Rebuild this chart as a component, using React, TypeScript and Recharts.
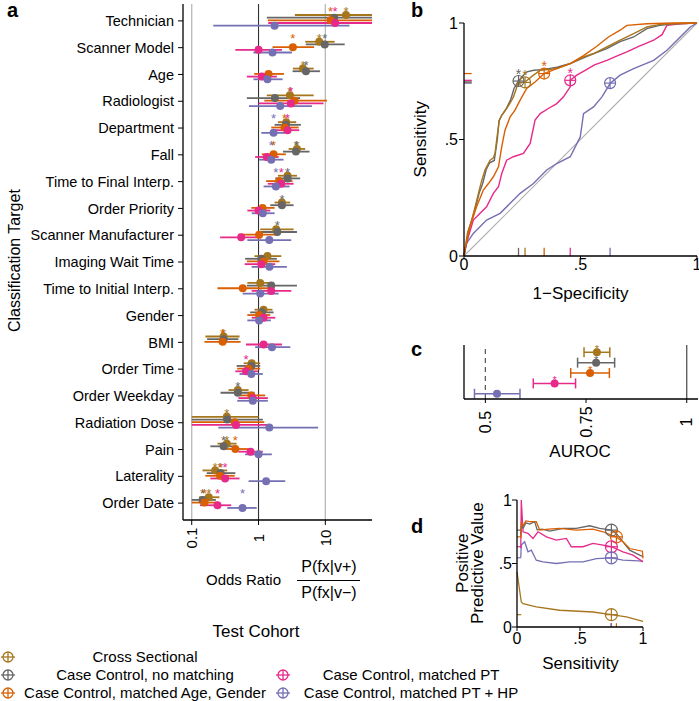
import React from 'react';
import {
  ScatterChart,
  Scatter,
  ComposedChart,
  Line,
  XAxis,
  YAxis,
  ErrorBar,
  ReferenceLine,
} from 'recharts';

const FONT = '"Liberation Sans", Arial, Helvetica, sans-serif';

// ---------- cohorts ----------
const cohortNames = [
  'Cross Sectional',
  'Case Control, no matching',
  'Case Control, matched Age, Gender',
  'Case Control, matched PT',
  'Case Control, matched PT + HP',
];
const cohortColors = ['#A6761D', '#666666', '#D95F02', '#E7298A', '#7570B3'];

// ---------- panel a : odds ratios ----------
const targets = [
  'Technician', 'Scanner Model', 'Age', 'Radiologist', 'Department', 'Fall',
  'Time to Final Interp.', 'Order Priority', 'Scanner Manufacturer', 'Imaging Wait Time',
  'Time to Initial Interp.', 'Gender', 'BMI', 'Order Time', 'Order Weekday',
  'Radiation Dose', 'Pain', 'Laterality', 'Order Date',
];

const orCross = [20.4, 8.1, 4.62, 2.95, 2.6, 3.76, 2.72, 2.24, 1.84, 1.36, 1.06, 1.19, 0.3, 0.79, 0.49, 0.335, 0.335, 0.224, 0.18];
const loCross = [3.5, 5.0, 3.27, 1.33, 1.95, 2.82, 1.95, 1.74, 1.06, 0.87, 0.68, 0.87, 0.16, 0.6, 0.355, 0.1, 0.243, 0.145, 0.129];
const hiCross = [50, 13.8, 6.7, 6.7, 3.67, 5.0, 3.76, 2.98, 3.35, 2.19, 1.68, 1.62, 0.52, 1.06, 0.71, 1.0, 0.47, 0.34, 0.26];
const sigCross = [1, 1, 1, 1, 0, 1, 0, 0, 0, 0, 0, 0, 1, 0, 0, 1, 1, 1, 1];

const orNoMatch = [13.6, 9.8, 5.13, 1.76, 2.57, 3.63, 2.72, 2.24, 1.91, 1.1, 1.55, 1.12, 0.3, 0.78, 0.49, 0.34, 0.3, 0.27, 0.145];
const loNoMatch = [1.33, 5.1, 3.24, 0.67, 1.74, 2.32, 1.78, 1.5, 1.02, 0.63, 0.67, 0.75, 0.17, 0.47, 0.27, 0.1, 0.19, 0.168, 0.1];
const hiNoMatch = [50, 19.5, 8.3, 4.2, 4.3, 5.8, 4.2, 3.35, 3.76, 1.88, 3.76, 1.68, 0.5, 1.06, 0.87, 1.16, 0.45, 0.45, 0.23];
const sigNoMatch = [0, 1, 1, 0, 0, 1, 1, 1, 1, 0, 0, 0, 0, 0, 1, 0, 1, 1, 1];

const orAgeGender = [12.0, 3.27, 1.41, 3.47, 2.45, 1.68, 2.04, 1.15, 1.02, 1.19, 0.58, 1.02, 0.29, 0.71, 0.78, 0.44, 0.45, 0.266, 0.155];
const loAgeGender = [1.38, 1.62, 0.86, 1.22, 1.55, 1.12, 1.3, 0.78, 0.5, 0.67, 0.243, 0.68, 0.155, 0.48, 0.53, 0.1, 0.3, 0.16, 0.1];
const hiAgeGender = [50, 6.8, 2.4, 10.6, 3.98, 2.57, 3.24, 1.74, 2.0, 2.06, 1.41, 1.5, 0.54, 1.06, 1.26, 1.22, 0.71, 0.44, 0.25];
const sigAgeGender = [1, 1, 0, 0, 1, 1, 0, 0, 0, 0, 0, 0, 1, 0, 0, 0, 1, 1, 1];

const orPT = [14, 1.0, 1.12, 3.05, 2.72, 1.33, 2.19, 1.0, 0.55, 1.1, 1.55, 1.19, 1.19, 0.65, 0.82, 0.46, 0.76, 0.316, 0.243];
const loPT = [1.4, 0.45, 0.67, 1.0, 1.74, 0.89, 1.38, 0.68, 0.266, 0.62, 0.79, 0.79, 0.65, 0.45, 0.5, 0.1, 0.5, 0.19, 0.133];
const hiPT = [50, 2.24, 1.88, 9.4, 4.07, 2.0, 3.35, 1.5, 1.1, 1.78, 3.09, 1.78, 2.24, 0.98, 1.38, 1.41, 1.16, 0.52, 0.39];
const sigPT = [1, 0, 0, 1, 1, 0, 1, 0, 0, 0, 0, 0, 0, 1, 0, 0, 0, 1, 1];

const orPTHP = [1.74, 1.62, 1.36, 2.11, 1.68, 1.55, 1.82, 1.16, 1.45, 1.46, 1.06, 1.02, 1.59, 0.78, 0.82, 1.45, 1.0, 1.3, 0.575];
const loPTHP = [0.21, 0.84, 0.84, 0.72, 1.1, 1.02, 1.19, 0.79, 0.68, 0.79, 0.58, 0.68, 0.89, 0.52, 0.48, 0.25, 0.63, 0.71, 0.34];
const hiPTHP = [23, 3.16, 2.29, 6.3, 2.51, 2.37, 2.92, 1.74, 3.09, 2.66, 2.0, 1.53, 2.99, 1.16, 1.38, 7.8, 1.58, 2.51, 0.94];
const sigPTHP = [0, 0, 0, 0, 1, 1, 1, 0, 0, 0, 0, 0, 0, 0, 0, 0, 0, 0, 1];

const orTicks = [0.1, 1, 10];

// ---------- panel b : ROC ----------
const rocFprCross = [0, 0.004, 0.015, 0.033, 0.045, 0.062, 0.075, 0.09, 0.112, 0.125, 0.133, 0.143, 0.152, 0.162, 0.183, 0.2, 0.212, 0.225, 0.229, 0.262, 0.29, 0.327, 0.36, 0.398, 0.456, 0.513, 0.556, 0.613, 0.67, 0.728, 0.785, 0.842, 0.9, 1];
const rocTprCross = [0, 0.026, 0.1, 0.154, 0.2, 0.269, 0.32, 0.369, 0.411, 0.42, 0.44, 0.52, 0.583, 0.604, 0.633, 0.66, 0.683, 0.72, 0.74, 0.747, 0.77, 0.797, 0.8, 0.804, 0.826, 0.854, 0.869, 0.897, 0.926, 0.954, 0.983, 0.994, 0.997, 1];
const rocFprNoMatch = [0, 0.005, 0.02, 0.035, 0.05, 0.065, 0.08, 0.095, 0.11, 0.13, 0.143, 0.15, 0.16, 0.18, 0.2, 0.215, 0.234, 0.25, 0.27, 0.3, 0.34, 0.4, 0.456, 0.513, 0.56, 0.613, 0.67, 0.728, 0.785, 0.84, 0.9, 1];
const rocTprNoMatch = [0, 0.03, 0.11, 0.16, 0.21, 0.27, 0.31, 0.37, 0.4, 0.41, 0.5, 0.58, 0.6, 0.63, 0.67, 0.72, 0.751, 0.77, 0.79, 0.797, 0.8, 0.81, 0.826, 0.85, 0.87, 0.89, 0.92, 0.94, 0.976, 0.99, 0.997, 1];
const rocFprAgeGender = [0, 0.004, 0.026, 0.054, 0.083, 0.105, 0.126, 0.148, 0.162, 0.176, 0.198, 0.219, 0.241, 0.269, 0.305, 0.344, 0.398, 0.456, 0.513, 0.57, 0.62, 0.67, 0.699, 0.785, 0.9, 1];
const rocTprAgeGender = [0, 0.026, 0.126, 0.211, 0.283, 0.311, 0.34, 0.383, 0.469, 0.54, 0.597, 0.626, 0.669, 0.719, 0.747, 0.783, 0.804, 0.826, 0.86, 0.9, 0.94, 0.969, 0.99, 0.997, 1, 1];
const rocFprPT = [0, 0.004, 0.019, 0.04, 0.069, 0.097, 0.126, 0.148, 0.162, 0.183, 0.212, 0.255, 0.284, 0.305, 0.327, 0.362, 0.398, 0.427, 0.456, 0.456, 0.484, 0.52, 0.56, 0.613, 0.66, 0.699, 0.75, 0.814, 0.85, 0.871, 0.93, 1];
const rocTprPT = [0, 0.026, 0.083, 0.154, 0.183, 0.211, 0.269, 0.297, 0.354, 0.411, 0.426, 0.44, 0.483, 0.583, 0.611, 0.633, 0.654, 0.683, 0.726, 0.754, 0.776, 0.797, 0.82, 0.84, 0.86, 0.876, 0.9, 0.926, 0.95, 0.99, 0.997, 1];
const rocFprPTHP = [0, 0.011, 0.04, 0.097, 0.155, 0.198, 0.241, 0.298, 0.355, 0.398, 0.456, 0.499, 0.513, 0.556, 0.592, 0.627, 0.67, 0.728, 0.814, 0.871, 0.928, 0.971, 1];
const rocTprPTHP = [0, 0.054, 0.097, 0.154, 0.183, 0.226, 0.269, 0.311, 0.369, 0.397, 0.426, 0.511, 0.611, 0.64, 0.683, 0.74, 0.776, 0.804, 0.84, 0.883, 0.94, 0.983, 1];

const thrFpr = [0.262, 0.234, 0.344, 0.456, 0.627];
const thrTpr = [0.745, 0.751, 0.783, 0.754, 0.742];
const thrSig = [1, 1, 1, 1, 0];
const unitTicks = [0, 0.5, 1];

// ---------- panel c : AUROC ----------
const aurocMean = [0.777, 0.775, 0.76, 0.672, 0.529];
const aurocLo = [0.745, 0.729, 0.712, 0.619, 0.473];
const aurocHi = [0.809, 0.821, 0.808, 0.724, 0.586];
const aurocSig = [1, 1, 1, 1, 0];
const aurocTicks = [0.5, 0.75, 1];

// ---------- panel d : PPV ----------
const ppvSensCross = [0, 0.034, 0.048, 0.153, 0.339, 0.603, 0.749, 0.868, 1];
const ppvCross = [0.434, 0.197, 0.184, 0.158, 0.132, 0.118, 0.097, 0.079, 0.045];
const ppvSensNoMatch = [0.03, 0.035, 0.05, 0.07, 0.1, 0.14, 0.16, 0.2, 0.26, 0.365, 0.47, 0.577, 0.656, 0.749, 0.788, 0.841, 0.894, 0.974, 1];
const ppvNoMatch = [0.72, 0.8, 0.78, 0.82, 0.81, 0.83, 0.765, 0.77, 0.755, 0.776, 0.776, 0.797, 0.776, 0.763, 0.737, 0.671, 0.605, 0.566, 0.553];
const ppvSensAgeGender = [0.03, 0.035, 0.05, 0.07, 0.1, 0.153, 0.18, 0.25, 0.339, 0.47, 0.603, 0.683, 0.783, 0.841, 0.894, 0.995, 1];
const ppvAgeGender = [0.7, 0.82, 0.8, 0.835, 0.83, 0.829, 0.763, 0.77, 0.776, 0.763, 0.771, 0.75, 0.71, 0.671, 0.618, 0.597, 0.54];
const ppvSensPT = [0.03, 0.034, 0.048, 0.087, 0.127, 0.167, 0.233, 0.312, 0.392, 0.431, 0.524, 0.603, 0.683, 0.749, 0.841, 0.921, 1];
const ppvPT = [0.62, 1.0, 0.75, 0.737, 0.697, 0.75, 0.71, 0.684, 0.697, 0.632, 0.632, 0.658, 0.645, 0.632, 0.592, 0.566, 0.513];
const ppvSensPTHP = [0.03, 0.034, 0.061, 0.087, 0.114, 0.153, 0.206, 0.312, 0.418, 0.524, 0.63, 0.749, 0.841, 1];
const ppvPTHP = [0.55, 0.645, 0.671, 0.592, 0.605, 0.526, 0.513, 0.5, 0.513, 0.513, 0.539, 0.545, 0.526, 0.518];

const thrSens = [0.749, 0.749, 0.789, 0.749, 0.749];
const thrPpv = [0.097, 0.763, 0.71, 0.632, 0.545];

// ---------- derived tables ----------
const aSeries = [
  { or: orCross, lo: loCross, hi: hiCross, sig: sigCross },
  { or: orNoMatch, lo: loNoMatch, hi: hiNoMatch, sig: sigNoMatch },
  { or: orAgeGender, lo: loAgeGender, hi: hiAgeGender, sig: sigAgeGender },
  { or: orPT, lo: loPT, hi: hiPT, sig: sigPT },
  { or: orPTHP, lo: loPTHP, hi: hiPTHP, sig: sigPTHP },
];
const dodge = [-0.22, -0.12, -0.02, 0.08, 0.18];
const dataA = aSeries.map((s, c) =>
  s.or.map((v, i) => ({ x: v, y: i + dodge[c], err: [v - s.lo[i], s.hi[i] - v] }))
);
const starsA = aSeries.map((s) =>
  s.or.map((v, i) => (s.sig[i] ? { x: v, y: i - 0.46 } : null)).filter(Boolean) as any[]
);

const zipXY = (xs: number[], ys: number[]) => xs.map((x, i) => ({ x, y: ys[i] }));
const rocData = [
  zipXY(rocFprCross, rocTprCross),
  zipXY(rocFprNoMatch, rocTprNoMatch),
  zipXY(rocFprAgeGender, rocTprAgeGender),
  zipXY(rocFprPT, rocTprPT),
  zipXY(rocFprPTHP, rocTprPTHP),
];
const ppvData = [
  zipXY(ppvSensCross, ppvCross),
  zipXY(ppvSensNoMatch, ppvNoMatch),
  zipXY(ppvSensAgeGender, ppvAgeGender),
  zipXY(ppvSensPT, ppvPT),
  zipXY(ppvSensPTHP, ppvPTHP),
];
const dataC = aurocMean.map((m, i) => ({ x: m, y: i, err: [m - aurocLo[i], aurocHi[i] - m], sig: aurocSig[i] }));

const drawOrder = [4, 3, 1, 0, 2];

// ---------- helpers ----------
const fmtUnit = (v: number) => (v === 0 ? '0' : v === 1 ? '1' : '.5');

const rotTick = (dy: number, size: number, fmt: (v: number) => string) => (props: any) => {
  const { x, y, payload } = props;
  const cy = y + dy;
  return (
    <text
      x={x}
      y={cy}
      transform={`rotate(-90 ${x} ${cy})`}
      textAnchor="middle"
      dominantBaseline="central"
      fontSize={size}
      fontFamily={FONT}
      fill="#000"
    >
      {fmt(payload.value)}
    </text>
  );
};

const crossCircle = (color: string, r: number, showStar: boolean) => (p: any) => {
  const { cx, cy } = p;
  if (cx == null || cy == null) return <g />;
  return (
    <g>
      <circle cx={cx} cy={cy} r={r} fill="none" stroke={color} strokeWidth={1.2} />
      <line x1={cx - r} x2={cx + r} y1={cy} y2={cy} stroke={color} strokeWidth={1.2} />
      <line x1={cx} x2={cx} y1={cy - r} y2={cy + r} stroke={color} strokeWidth={1.2} />
      {showStar ? (
        <text x={cx} y={cy - r + 3} textAnchor="middle" fontSize={14} fontFamily={FONT} fill={color}>
          *
        </text>
      ) : null}
    </g>
  );
};

const Txt = ({ cx, cy, text, size, bold, rotate, width = 300 }: any) => (
  <div
    style={{
      position: 'absolute',
      left: cx - width / 2,
      top: cy - size * 0.6,
      width,
      height: size * 1.2,
      lineHeight: `${size * 1.2}px`,
      fontSize: size,
      fontWeight: bold ? 'bold' : 'normal',
      textAlign: 'center',
      whiteSpace: 'nowrap',
      fontFamily: FONT,
      color: '#000',
      transform: rotate ? 'rotate(-90deg)' : undefined,
    }}
  >
    {text}
  </div>
);

const LegendIcon = ({ color }: { color: string }) => (
  <svg width={16} height={14} style={{ display: 'block' }}>
    <line x1={1} x2={15} y1={7} y2={7} stroke={color} strokeWidth={1.3} />
    <circle cx={8} cy={7} r={5} fill="none" stroke={color} strokeWidth={1.3} />
    <line x1={8} x2={8} y1={2} y2={12} stroke={color} strokeWidth={1.3} />
  </svg>
);

const axisStyle = { stroke: '#000', strokeWidth: 1.3 };

// ---------- panels ----------
function PanelA() {
  return (
    <div style={{ position: 'absolute', left: 0, top: 0 }}>
      <ScatterChart width={380} height={560} margin={{ top: 4, right: 8, bottom: 0, left: 0 }} style={{ fontFamily: FONT }}>
        <XAxis
          type="number"
          dataKey="x"
          scale="log"
          domain={[0.074, 50]}
          allowDataOverflow
          ticks={orTicks}
          interval={0}
          height={40}
          tickSize={5}
          tickMargin={0}
          axisLine={axisStyle}
          tickLine={{ stroke: '#000' }}
          tick={rotTick(13, 15, (v) => String(v))}
        />
        <YAxis
          type="number"
          dataKey="y"
          domain={[-0.63, 18.63]}
          reversed
          ticks={targets.map((_, i) => i)}
          interval={0}
          width={183}
          tickSize={5}
          tickMargin={4}
          axisLine={axisStyle}
          tickLine={{ stroke: '#000' }}
          tickFormatter={(v: number) => targets[v] ?? ''}
          tick={{ fontSize: 14.5, fill: '#000', fontFamily: FONT }}
        />
        <ReferenceLine x={0.1} stroke="#b8b8b8" strokeWidth={1.3} />
        <ReferenceLine x={10} stroke="#b8b8b8" strokeWidth={1.3} />
        <ReferenceLine x={1} stroke="#333" strokeWidth={1.1} />
        {dataA.map((d, c) => (
          <Scatter
            key={'a' + c}
            name={cohortNames[c]}
            data={d}
            isAnimationActive={false}
            shape={(p: any) => <circle cx={p.cx} cy={p.cy} r={4} fill={cohortColors[c]} />}
          >
            <ErrorBar dataKey="err" direction="x" width={0} stroke={cohortColors[c]} strokeWidth={1.8} />
          </Scatter>
        ))}
        {starsA.map((d, c) => (
          <Scatter
            key={'s' + c}
            data={d}
            isAnimationActive={false}
            shape={(p: any) => (
              <text x={p.cx} y={p.cy + 7.5} textAnchor="middle" fontSize={13} fontFamily={FONT} fill={cohortColors[c]}>
                *
              </text>
            )}
          />
        ))}
      </ScatterChart>
    </div>
  );
}

function PanelB() {
  return (
    <div style={{ position: 'absolute', left: 420, top: 0 }}>
      <ComposedChart width={279} height={306} margin={{ top: 23, right: 2, bottom: 0, left: 0 }} style={{ fontFamily: FONT }}>
        <XAxis
          type="number"
          dataKey="x"
          domain={[0, 1]}
          ticks={unitTicks}
          interval={0}
          height={50}
          tickSize={3}
          tickMargin={0}
          axisLine={axisStyle}
          tickLine={{ stroke: '#000' }}
          tickFormatter={fmtUnit}
          tick={{ fontSize: 16, fill: '#000', fontFamily: FONT }}
        />
        <YAxis
          type="number"
          dataKey="y"
          domain={[0, 1]}
          ticks={unitTicks}
          interval={0}
          width={44}
          tickSize={5}
          tickMargin={1}
          axisLine={axisStyle}
          tickLine={{ stroke: '#000' }}
          tickFormatter={fmtUnit}
          tick={{ fontSize: 16, fill: '#000', fontFamily: FONT }}
        />
        <ReferenceLine segment={[{ x: 0, y: 0 }, { x: 1, y: 1 }]} stroke="#b0b0b0" strokeWidth={1.2} />
        {drawOrder.map((c) => (
          <Line
            key={'roc' + c}
            data={rocData[c]}
            dataKey="y"
            type="linear"
            stroke={cohortColors[c]}
            strokeWidth={1.4}
            dot={false}
            activeDot={false}
            isAnimationActive={false}
          />
        ))}
        {thrFpr.map((f, c) => (
          <ReferenceLine key={'rx' + c} segment={[{ x: f, y: 0 }, { x: f, y: 0.035 }]} stroke={cohortColors[c]} strokeWidth={1.3} />
        ))}
        {thrTpr.map((t, c) => (
          <ReferenceLine key={'ry' + c} segment={[{ x: 0, y: t }, { x: 0.033, y: t }]} stroke={cohortColors[c]} strokeWidth={1.3} />
        ))}
        {thrFpr.map((f, c) => (
          <Scatter
            key={'thr' + c}
            data={[{ x: f, y: thrTpr[c] }]}
            isAnimationActive={false}
            shape={crossCircle(cohortColors[c], 5.5, !!thrSig[c])}
          />
        ))}
      </ComposedChart>
    </div>
  );
}

function PanelC() {
  return (
    <div style={{ position: 'absolute', left: 420, top: 330 }}>
      <ScatterChart width={279} height={109} margin={{ top: 15, right: 1, bottom: 0, left: 0 }} style={{ fontFamily: FONT }}>
        <XAxis
          type="number"
          dataKey="x"
          domain={[0.447, 1.028]}
          ticks={aurocTicks}
          interval={0}
          height={40}
          tickSize={4}
          tickMargin={0}
          axisLine={axisStyle}
          tickLine={{ stroke: '#000' }}
          tick={rotTick(19, 16, (v) => String(v))}
        />
        <YAxis
          type="number"
          dataKey="y"
          domain={[-0.7, 4.5]}
          reversed
          width={44}
          tick={false}
          tickLine={false}
          axisLine={axisStyle}
        />
        <ReferenceLine x={0.5} stroke="#555" strokeDasharray="5 4" strokeWidth={1.2} />
        <ReferenceLine x={1} stroke="#555" strokeWidth={1.3} />
        {dataC.map((d, c) => (
          <Scatter
            key={'c' + c}
            data={[d]}
            isAnimationActive={false}
            shape={(p: any) => (
              <g>
                <circle cx={p.cx} cy={p.cy} r={4} fill={cohortColors[c]} />
                {d.sig ? (
                  <text x={p.cx} y={p.cy + 1} textAnchor="middle" fontSize={11} fontFamily={FONT} fill={cohortColors[c]}>
                    *
                  </text>
                ) : null}
              </g>
            )}
          >
            <ErrorBar dataKey="err" direction="x" width={5} stroke={cohortColors[c]} strokeWidth={1.5} />
          </Scatter>
        ))}
      </ScatterChart>
    </div>
  );
}

function PanelD() {
  return (
    <div style={{ position: 'absolute', left: 420, top: 490 }}>
      <ComposedChart width={230} height={167} margin={{ top: 10, right: 7, bottom: 0, left: 0 }} style={{ fontFamily: FONT }}>
        <XAxis
          type="number"
          dataKey="x"
          domain={[0, 1]}
          ticks={unitTicks}
          interval={0}
          height={30}
          tickSize={4}
          tickMargin={2}
          axisLine={axisStyle}
          tickLine={{ stroke: '#000' }}
          tickFormatter={fmtUnit}
          tick={{ fontSize: 16, fill: '#000', fontFamily: FONT }}
        />
        <YAxis
          type="number"
          dataKey="y"
          domain={[0, 1]}
          ticks={unitTicks}
          interval={0}
          width={97}
          tickSize={5}
          tickMargin={0}
          axisLine={axisStyle}
          tickLine={{ stroke: '#000' }}
          tickFormatter={fmtUnit}
          tick={{ fontSize: 16, fill: '#000', fontFamily: FONT }}
        />
        {thrPpv.map((v, c) => (
          <ReferenceLine key={'dy' + c} segment={[{ x: 0, y: v }, { x: 0.034, y: v }]} stroke={cohortColors[c]} strokeWidth={1.2} />
        ))}
        {thrSens.map((s, c) => (
          <ReferenceLine key={'dx' + c} segment={[{ x: s, y: 0 }, { x: s, y: 0.03 }]} stroke={cohortColors[c]} strokeWidth={1.2} />
        ))}
        {drawOrder.map((c) => (
          <Line
            key={'ppv' + c}
            data={ppvData[c]}
            dataKey="y"
            type="linear"
            stroke={cohortColors[c]}
            strokeWidth={1.3}
            dot={false}
            activeDot={false}
            isAnimationActive={false}
          />
        ))}
        {thrSens.map((s, c) => (
          <Scatter
            key={'dthr' + c}
            data={[{ x: s, y: thrPpv[c] }]}
            isAnimationActive={false}
            shape={crossCircle(cohortColors[c], 6, false)}
          />
        ))}
      </ComposedChart>
    </div>
  );
}

function Legend() {
  const rows = [
    { c: 0, ix: 0, cx: 145, cy: 657 },
    { c: 1, ix: 0, cx: 145, cy: 675 },
    { c: 2, ix: 0, cx: 145, cy: 693 },
    { c: 3, ix: 275, cx: 411, cy: 675 },
    { c: 4, ix: 275, cx: 411, cy: 693 },
  ];
  return (
    <>
      <Txt cx={256} cy={632} text="Test Cohort" size={17} />
      {rows.map((r) => (
        <React.Fragment key={'lg' + r.c}>
          <div style={{ position: 'absolute', left: r.ix, top: r.cy - 7 }}>
            <LegendIcon color={cohortColors[r.c]} />
          </div>
          <Txt cx={r.cx} cy={r.cy} text={cohortNames[r.c]} size={15} width={260} />
        </React.Fragment>
      ))}
    </>
  );
}

export default function App() {
  return (
    <div
      style={{
        position: 'absolute',
        left: 0,
        top: 0,
        width: 699,
        height: 701,
        overflow: 'hidden',
        background: '#fff',
        fontFamily: FONT,
      }}
    >
      <PanelA />
      <PanelB />
      <PanelC />
      <PanelD />

      {/* panel letters */}
      <div style={{ position: 'absolute', left: 7, top: 0, fontSize: 20, lineHeight: '20px', fontWeight: 'bold', fontFamily: FONT }}>a</div>
      <div style={{ position: 'absolute', left: 411, top: 0, fontSize: 20, lineHeight: '20px', fontWeight: 'bold', fontFamily: FONT }}>b</div>
      <div style={{ position: 'absolute', left: 411, top: 339, fontSize: 20, lineHeight: '20px', fontWeight: 'bold', fontFamily: FONT }}>c</div>
      <div style={{ position: 'absolute', left: 411, top: 516, fontSize: 20, lineHeight: '20px', fontWeight: 'bold', fontFamily: FONT }}>d</div>

      {/* panel a titles */}
      <Txt cx={14.5} cy={261} text="Classification Target" size={16} rotate />
      <div style={{ position: 'absolute', left: 206, top: 571, fontSize: 15, lineHeight: '18px', fontFamily: FONT }}>Odds Ratio</div>
      <Txt cx={329} cy={567} text="P(fx|v+)" size={16} width={80} />
      <div style={{ position: 'absolute', left: 297, top: 580, width: 63, height: 1, background: '#000' }} />
      <Txt cx={329} cy={593} text="P(fx|v−)" size={16} width={80} />

      {/* panel b titles */}
      <Txt cx={421} cy={139} text="Sensitivity" size={17} rotate width={120} />
      <Txt cx={580.5} cy={294} text="1−Specificity" size={17} width={140} />

      {/* panel c title */}
      <Txt cx={580} cy={452} text="AUROC" size={17} width={100} />

      {/* panel d titles */}
      <Txt cx={463} cy={563} text="Positive" size={17} rotate width={140} />
      <Txt cx={478} cy={563} text="Predictive Value" size={17} rotate width={160} />
      <Txt cx={580.5} cy={664} text="Sensitivity" size={17} width={120} />

      <Legend />
    </div>
  );
}
